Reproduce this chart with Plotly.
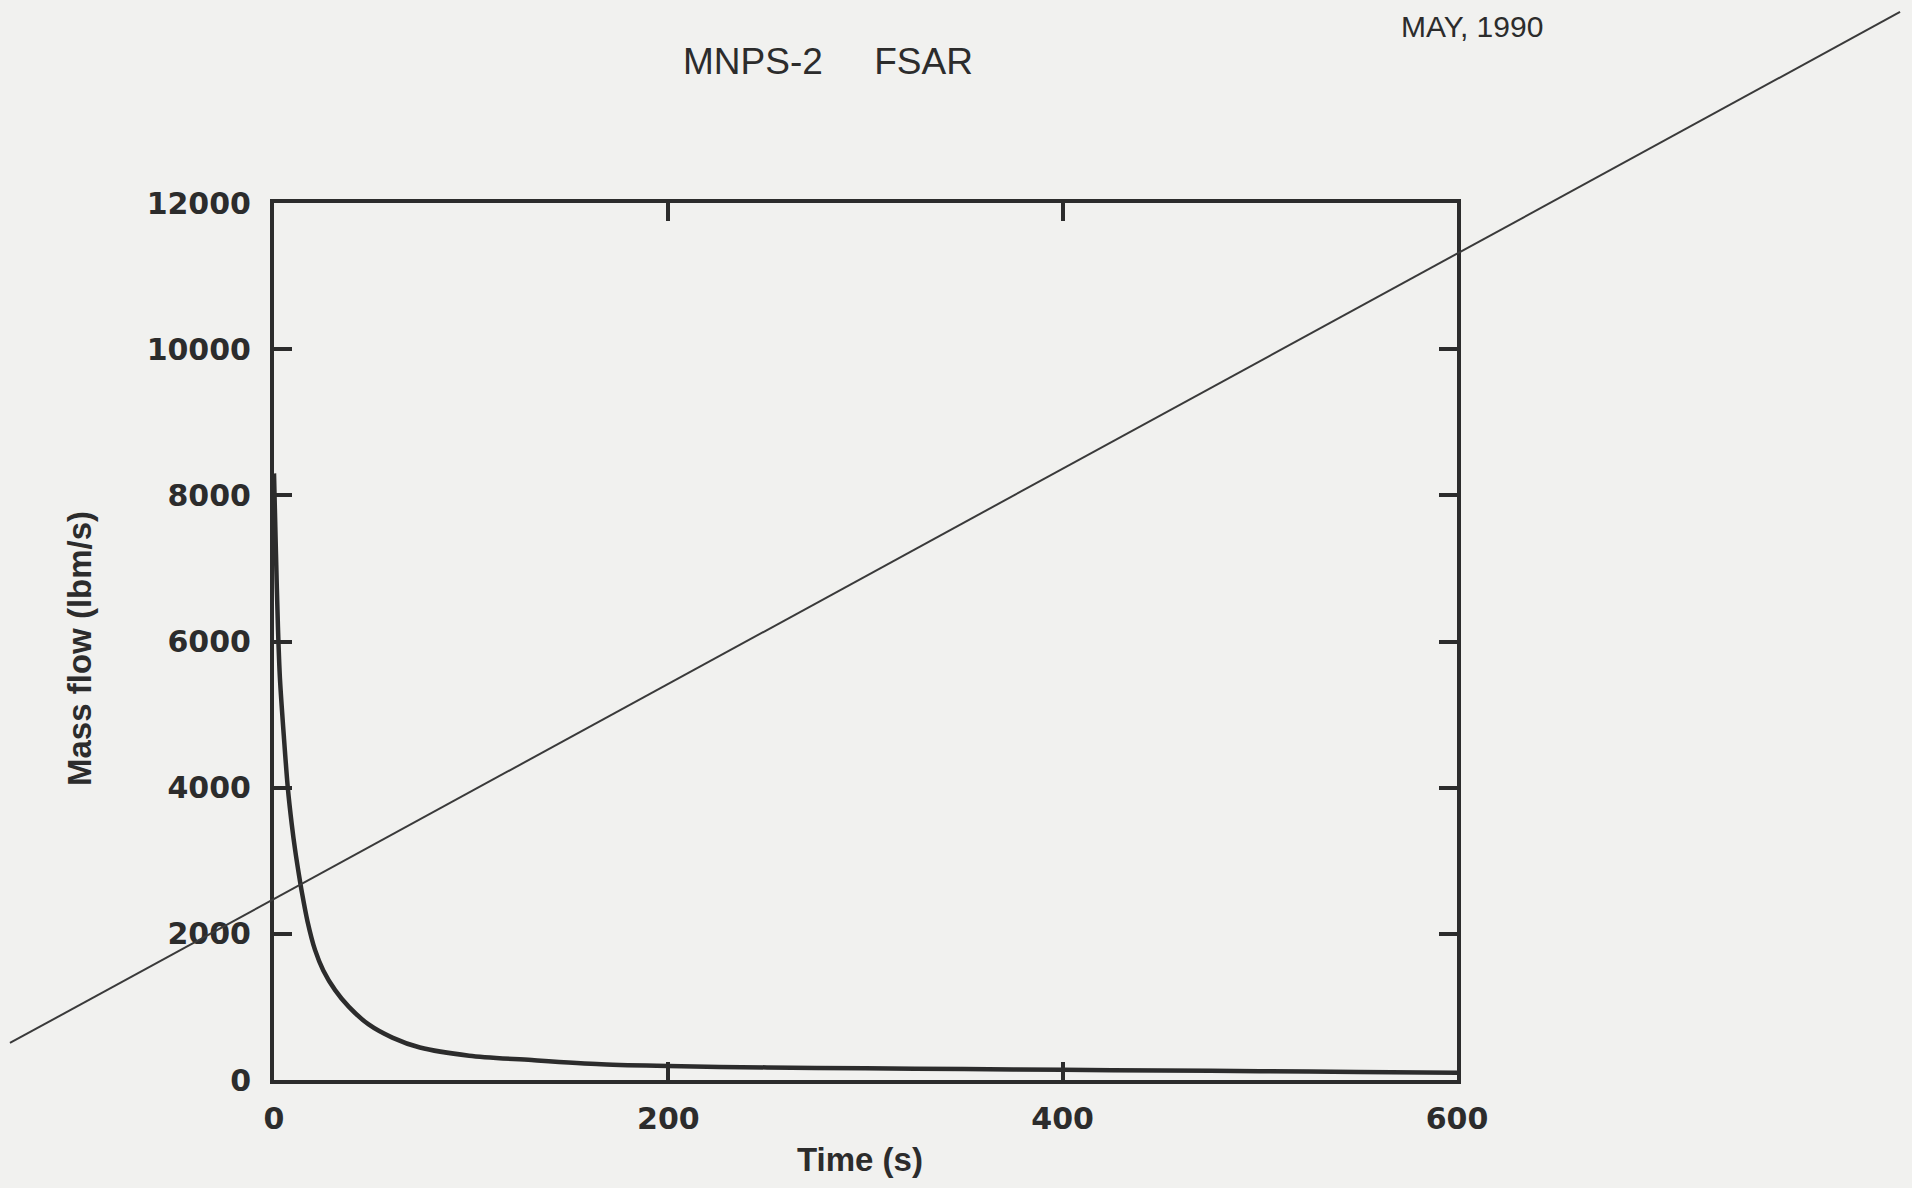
import plotly.graph_objects as go

# ---- data ----
time_s = [0, 1, 2, 3, 5, 7, 9, 10.7, 12.7, 14.2, 17, 20.8, 25, 31, 38, 48, 60, 74,
          99, 132, 166, 200, 250, 300, 350, 400, 450, 500, 550, 600]
mass_flow = [8300, 7200, 6200, 5500, 4700, 4000, 3500, 3150, 2800, 2560, 2170, 1780,
             1500, 1230, 1000, 760, 580, 444, 333, 270, 215, 190, 172, 160, 150, 140,
             130, 120, 110, 100]

x_ticks = [0, 200, 400, 600]
y_ticks = [0, 2000, 4000, 6000, 8000, 10000, 12000]

title_text = "MNPS-2\u00a0\u00a0\u00a0\u00a0\u00a0FSAR"
date_text = "MAY, 1990"
x_title = "Time (s)"
y_title = "Mass flow (lbm/s)"

# stray straight line across the scanned page (paper fractions)
stray_line_x = [-0.2232, 1.3745]
stray_line_y = [0.0422, 1.2178]

ink = "#2c2c2c"
paper_bg = "#f1f1ef"

fig = go.Figure()
fig.add_trace(go.Scatter(x=time_s, y=mass_flow, mode="lines",
                         line=dict(color=ink, width=4.5, shape="spline", smoothing=0.8),
                         showlegend=False, hoverinfo="skip"))

tickfont = dict(family="DejaVu Sans, Liberation Sans, sans-serif", size=30, color=ink,
                weight="bold")

fig.update_xaxes(range=[0, 600], tickvals=x_ticks, ticktext=[str(v) for v in x_ticks],
                 showline=True, linewidth=4, linecolor=ink, mirror="ticks",
                 ticks="inside", ticklen=18, tickwidth=4, tickcolor=ink,
                 showgrid=False, zeroline=False, tickfont=tickfont,
                 ticklabelstandoff=9)
fig.update_yaxes(range=[0, 12000], tickvals=y_ticks, ticktext=[str(v) for v in y_ticks],
                 showline=True, linewidth=4, linecolor=ink, mirror="ticks",
                 ticks="inside", ticklen=18, tickwidth=4, tickcolor=ink,
                 showgrid=False, zeroline=False, tickfont=tickfont,
                 ticklabelstandoff=13)

fig.add_shape(type="line", xref="paper", yref="paper",
              x0=stray_line_x[0], y0=stray_line_y[0], x1=stray_line_x[1], y1=stray_line_y[1],
              line=dict(color="#3a3a3a", width=2), layer="above")

annots = [
    dict(text=title_text, x=0.4683, y=1.1619, font=dict(size=37, color=ink,
         family="Liberation Sans, Arial, sans-serif")),
    dict(text=date_text, x=1.0127, y=1.2007, font=dict(size=30, color=ink,
         family="Liberation Sans, Arial, sans-serif")),
    dict(text=x_title, x=0.4953, y=-0.0912, font=dict(size=33, color=ink, weight="bold",
         family="Liberation Sans, Arial, sans-serif")),
    dict(text=y_title, x=-0.164, y=0.4926, textangle=-90,
         font=dict(size=33, color=ink, weight="bold",
                   family="Liberation Sans, Arial, sans-serif")),
]
for a in annots:
    fig.add_annotation(xref="paper", yref="paper", showarrow=False,
                       xanchor="center", yanchor="middle", **a)

fig.update_layout(width=1912, height=1188,
                  margin=dict(l=274, r=455, t=203, b=108, pad=0),
                  paper_bgcolor=paper_bg, plot_bgcolor=paper_bg,
                  showlegend=False)

fig.write_html("out.html", config={"displayModeBar": False},
               post_script="document.body.style.margin='0px';"
                           "document.body.style.backgroundColor='#f1f1ef';")
